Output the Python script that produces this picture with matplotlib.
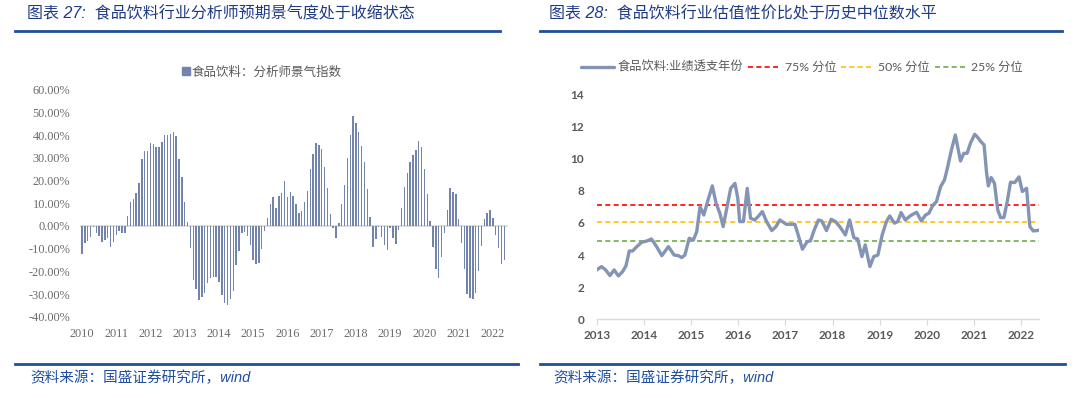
import matplotlib
matplotlib.use("Agg")
import matplotlib.pyplot as plt
from matplotlib.lines import Line2D
from matplotlib.patches import Patch
import numpy as np

# ---------------- data ----------------
# Left: analyst sentiment index, monthly Jan 2010 - May 2022 (%)
sentiment = [
    -12.5, -7.4, -6.5, -4.7, -0.6, -2.9, -4.4, -6.9, -6.2, -5.4, -9.4, -6.9,
    -4.0, -2.1, -2.9, -3.1, 4.4, 10.7, 11.8, 14.4, 19.1, 29.4, 33.2, 32.9,
    36.6, 36.2, 34.7, 34.7, 37.2, 40.3, 40.1, 40.6, 41.3, 39.6, 29.3, 21.4,
    10.4, 1.8, -9.9, -23.8, -27.8, -32.6, -31.2, -29.7, -25.3, -23.1, -22.6, -22.6,
    -24.6, -30.6, -34.1, -35.0, -32.2, -28.5, -17.2, -11.2, -2.9, -2.6, -4.4, -8.4,
    -14.8, -16.9, -16.5, -10.1, -2.4, 3.4, 9.6, 12.6, 8.1, 13.1, 14.4, 19.7,
    12.9, 14.9, 13.2, 9.6, 5.6, 6.8, 10.4, 15.6, 25.0, 31.6, 36.5, 35.9,
    34.1, 25.9, 16.6, 5.1, -1.0, -5.1, 1.2, 9.6, 17.9, 29.9, 39.9, 48.5,
    45.3, 41.2, 35.4, 28.4, 16.3, 3.8, -9.1, -5.7, -0.3, -4.7, -8.4, -10.7,
    -0.7, -5.1, -8.1, -1.8, 7.9, 17.1, 23.2, 28.1, 31.3, 33.5, 37.5, 34.6,
    25.1, 14.0, 2.2, -9.1, -19.0, -22.8, -13.5, -3.2, 7.1, 16.6, 15.1, 14.0,
    2.9, -7.6, -18.8, -30.1, -31.9, -32.2, -29.7, -20.0, -8.8, 2.9, 5.6, 6.9,
    3.7, -4.0, -9.9, -16.8, -15.0,
]
left_years = [str(y) for y in range(2010, 2023)]
left_yticks = [-40, -30, -20, -10, 0, 10, 20, 30, 40, 50, 60]

# Right: valuation ratio (decimal year, value)
val_t = [
    2013.00, 2013.10, 2013.19, 2013.28, 2013.37, 2013.46, 2013.55, 2013.62, 2013.69, 2013.76,
    2013.85, 2013.95, 2014.07, 2014.16, 2014.27, 2014.38, 2014.52, 2014.64, 2014.73, 2014.80,
    2014.87, 2014.96, 2015.05, 2015.12, 2015.19, 2015.27, 2015.36, 2015.45, 2015.53, 2015.61,
    2015.68, 2015.75, 2015.84, 2015.93, 2015.99, 2016.03, 2016.11, 2016.19, 2016.26, 2016.35,
    2016.42, 2016.51, 2016.60, 2016.71, 2016.80, 2016.88, 2017.02, 2017.13, 2017.20, 2017.27,
    2017.36, 2017.46, 2017.53, 2017.61, 2017.70, 2017.77, 2017.87, 2017.97, 2018.06, 2018.15,
    2018.27, 2018.36, 2018.45, 2018.53, 2018.62, 2018.69, 2018.79, 2018.87, 2018.96, 2019.05,
    2019.14, 2019.21, 2019.31, 2019.38, 2019.45, 2019.54, 2019.65, 2019.78, 2019.88, 2019.97,
    2020.04, 2020.13, 2020.20, 2020.29, 2020.37, 2020.44, 2020.51, 2020.60, 2020.71, 2020.78,
    2020.85, 2020.92, 2021.01, 2021.06, 2021.14, 2021.21, 2021.26, 2021.30, 2021.36, 2021.43,
    2021.50, 2021.56, 2021.63, 2021.70, 2021.77, 2021.86, 2021.95, 2022.02, 2022.11, 2022.18,
    2022.25, 2022.33, 2022.39,
]
val_v = [
    3.07, 3.28, 3.07, 2.72, 3.07, 2.70, 2.97, 3.32, 4.25, 4.25,
    4.52, 4.79, 4.88, 5.00, 4.52, 3.96, 4.52, 4.00, 3.96, 3.84,
    4.00, 5.04, 4.94, 5.46, 7.01, 6.49, 7.43, 8.30, 7.22, 6.60,
    5.77, 6.80, 8.15, 8.46, 7.53, 6.08, 6.08, 8.15, 6.29, 6.18,
    6.39, 6.70, 6.08, 5.52, 5.77, 6.18, 5.91, 5.91, 5.91, 5.25,
    4.36, 4.83, 4.88, 5.56, 6.18, 6.12, 5.52, 6.22, 6.08, 5.77,
    5.25, 6.18, 5.08, 5.00, 3.90, 4.63, 3.28, 3.90, 4.00, 5.25,
    6.08, 6.43, 5.98, 6.08, 6.64, 6.18, 6.45, 6.66, 6.12, 6.49,
    6.60, 7.12, 7.32, 8.26, 8.67, 9.50, 10.44, 11.47, 9.85, 10.33,
    10.33, 10.95, 11.51, 11.37, 11.06, 10.85, 9.19, 8.30, 8.82, 8.46,
    6.80, 6.33, 6.33, 7.32, 8.53, 8.51, 8.86, 7.95, 8.15, 5.77,
    5.50, 5.52, 5.56,
]
pct75 = 7.14
pct50 = 6.04
pct25 = 4.90
right_years = list(range(2013, 2023))
right_yticks = [0, 2, 4, 6, 8, 10, 12, 14]

# ---------------- figure ----------------
W, H = 1080, 398
fig = plt.figure(figsize=(W / 100, H / 100), dpi=100)
fig.patch.set_facecolor("white")

def fx(px):
    return px / W

def fy(py):
    return 1 - py / H

TITLE_C = "#1F3B86"
RULE_C = "#1F4E9A"
GRAY = "#595959"
CJK = "Noto Sans CJK SC"

# titles
fig.text(fx(27), fy(14), "图表 27:  食品饮料行业分析师预期景气度处于收缩状态",
         family=["Liberation Sans", CJK], style="italic", fontsize=11.5,
         color=TITLE_C, va="center", ha="left")
fig.text(fx(549), fy(14), "图表 28:  食品饮料行业估值性价比处于历史中位数水平",
         family=["Liberation Sans", CJK], style="italic", fontsize=11.5,
         color=TITLE_C, va="center", ha="left")

# rules
for x0, x1 in [(15, 500), (540, 1062)]:
    fig.add_artist(Line2D([fx(x0), fx(x1)], [fy(31), fy(31)], color=RULE_C, lw=2.0))
for x0, x1 in [(15, 518), (540, 1065)]:
    fig.add_artist(Line2D([fx(x0), fx(x1)], [fy(364), fy(364)], color=RULE_C, lw=2.0))

# sources
fig.text(fx(30), fy(378), "资料来源：国盛证券研究所，wind", family=["Liberation Sans", CJK],
         style="italic", fontsize=10.5, color="#1F4EA0", va="center", ha="left")
fig.text(fx(553), fy(378), "资料来源：国盛证券研究所，wind", family=["Liberation Sans", CJK],
         style="italic", fontsize=10.5, color="#1F4EA0", va="center", ha="left")

# ---------------- left chart ----------------
axL = fig.add_axes([fx(80), fy(316.8), fx(428.3), (316.8 - 89.8) / H])
idx = np.arange(len(sentiment))
bar_c = "#7384AC"
axL.bar(idx, sentiment, width=0.5, color=bar_c, linewidth=0)
axL.axhline(0, color="#D9D9D9", lw=1.3, zorder=0)
axL.set_xlim(-0.7, len(sentiment) + 0.4)
axL.set_ylim(-40, 60)
for s in axL.spines.values():
    s.set_visible(False)
axL.set_yticks(left_yticks)
axL.set_yticklabels([f"{v:.2f}%" for v in left_yticks])
axL.set_xticks(np.arange(len(left_years)) * 12)
axL.set_xticklabels(left_years)
axL.tick_params(axis="both", length=0, colors=GRAY, labelsize=8.8)
axL.tick_params(axis="y", pad=7)
axL.tick_params(axis="x", pad=8)
for lab in axL.get_xticklabels() + axL.get_yticklabels():
    lab.set_family(["Liberation Serif"])
    lab.set_color("#6b6b6b")
axL.set_facecolor("none")

legL = axL.legend(handles=[Patch(color=bar_c)], labels=["食品饮料：分析师景气指数"],
                  loc="center", bbox_to_anchor=(fx(262), fy(72)),
                  bbox_transform=fig.transFigure, frameon=False,
                  handlelength=0.6, handleheight=0.6, handletextpad=0.2,
                  prop={"family": [CJK], "size": 9})
for t in legL.get_texts():
    t.set_color(GRAY)

# ---------------- right chart ----------------
axR = fig.add_axes([fx(596.7), fy(319.3), fx(1039.3 - 596.7), (319.3 - 94.3) / H])
line_c = "#8394B5"
axR.plot(val_t, val_v, color=line_c, lw=2.4, solid_joinstyle="round",
         solid_capstyle="round", label="食品饮料:业绩透支年份", zorder=3)
axR.axhline(pct75, color="#FF0000", lw=1.2, ls=(0, (3, 2)), label="75% 分位", zorder=2)
axR.axhline(pct50, color="#FFC000", lw=1.2, ls=(0, (3, 2)), label="50% 分位", zorder=2)
axR.axhline(pct25, color="#70AD47", lw=1.2, ls=(0, (3, 2)), label="25% 分位", zorder=2)
axR.set_xlim(2013, 2022.38)
axR.set_ylim(0, 14)
for k in ["top", "right", "left"]:
    axR.spines[k].set_visible(False)
axR.spines["bottom"].set_color("#D9D9D9")
axR.spines["bottom"].set_linewidth(1.0)
axR.set_xticks(right_years)
axR.set_xticklabels([str(y) for y in right_years])
axR.set_yticks(right_yticks)
axR.tick_params(axis="x", length=4, width=0.8, color="#D9D9D9", pad=4,
                labelsize=8.5, labelcolor=GRAY)
axR.tick_params(axis="y", length=0, pad=9, labelsize=8.5, labelcolor=GRAY)
for lab in axR.get_xticklabels() + axR.get_yticklabels():
    lab.set_family(["Lato", "DejaVu Sans"])
    lab.set_fontweight("bold")
axR.set_facecolor("none")

legR = axR.legend(loc="center", bbox_to_anchor=(fx(802), fy(67)),
                  bbox_transform=fig.transFigure, ncol=4, frameon=False,
                  handlelength=2.7, handletextpad=0.3, columnspacing=0.4,
                  prop={"family": ["Lato", CJK], "size": 8.8})
for t in legR.get_texts():
    t.set_color(GRAY)

fig.savefig("out.png", dpi=100, facecolor="white")
